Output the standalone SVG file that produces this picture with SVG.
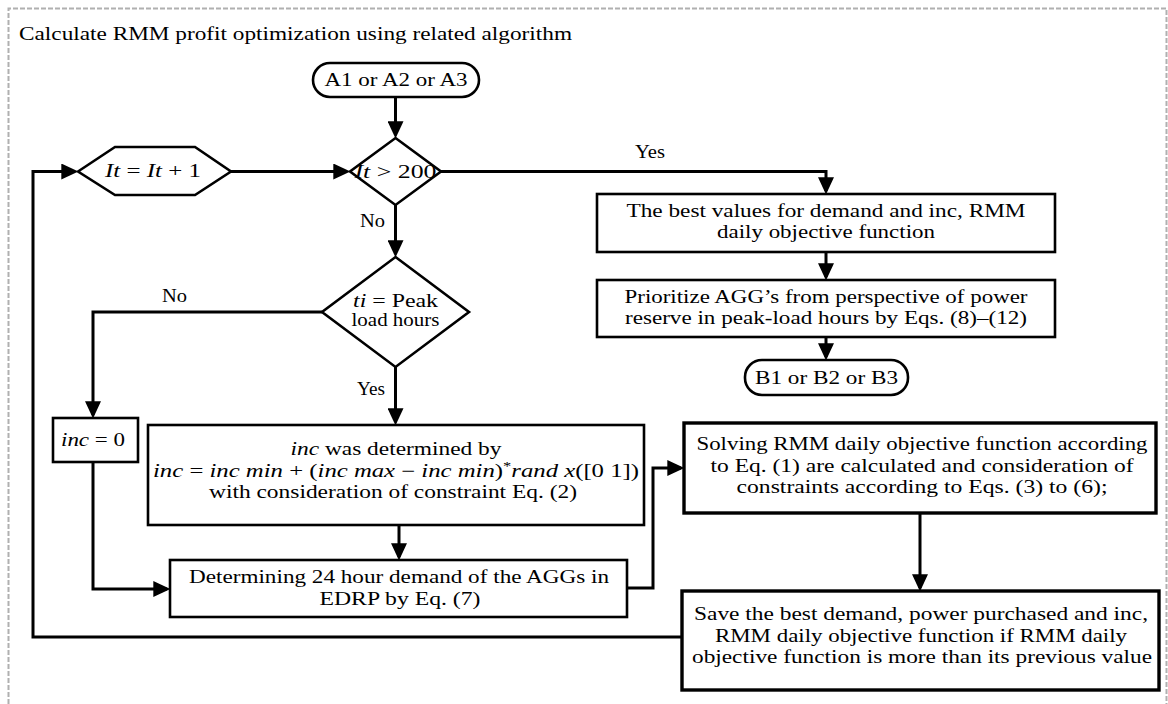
<svg xmlns="http://www.w3.org/2000/svg" width="1168" height="704" viewBox="0 0 1168 704">
<defs>
<style>
text{font-family:"Liberation Serif","Times New Roman",serif;font-size:18px;fill:#000}
.c{text-anchor:middle}
.i{font-style:italic}
.box{fill:#fff;stroke:#000;stroke-width:2.6}
.thick{stroke-width:3.4}
.conn{fill:none;stroke:#000;stroke-width:3;stroke-linejoin:miter}
</style>
<marker id="ah" markerUnits="userSpaceOnUse" markerWidth="18" markerHeight="16" viewBox="0 0 15 14" refX="12" refY="7" orient="auto">
<path d="M0,0 L15,7 L0,14 z" fill="#000"/>
</marker>
</defs>
<rect width="1168" height="704" fill="#fff"/>
<path d="M8.5,704 V8.5 H1166.5 V704" fill="none" stroke="#b0b0b0" stroke-width="2" stroke-dasharray="5 2"/>
<text x="19" y="40" textLength="553" lengthAdjust="spacingAndGlyphs">Calculate RMM profit optimization using related algorithm</text>

<g id="connectors">
<path class="conn" d="M395.5,97 V135" marker-end="url(#ah)"/>
<path class="conn" d="M231,171.5 H347" marker-end="url(#ah)"/>
<path class="conn" d="M441,171.5 H826 V191" marker-end="url(#ah)"/>
<path class="conn" d="M826,252 V277" marker-end="url(#ah)"/>
<path class="conn" d="M826,337 V357" marker-end="url(#ah)"/>
<path class="conn" d="M395.5,205 V254" marker-end="url(#ah)"/>
<path class="conn" d="M322,312 H93 V415" marker-end="url(#ah)"/>
<path class="conn" d="M395.5,367 V422" marker-end="url(#ah)"/>
<path class="conn" d="M399,525 V557" marker-end="url(#ah)"/>
<path class="conn" d="M93,462 V589 H167" marker-end="url(#ah)"/>
<path class="conn" d="M627,588 H653 V468 H681" marker-end="url(#ah)"/>
<path class="conn" d="M920,513 V588" marker-end="url(#ah)"/>
<path class="conn" d="M682,637 H33 V171.5 H75" marker-end="url(#ah)"/>
<text x="635" y="158" textLength="30" lengthAdjust="spacingAndGlyphs">Yes</text>
<text x="360" y="227" textLength="25" lengthAdjust="spacingAndGlyphs">No</text>
<text x="162" y="302" textLength="25" lengthAdjust="spacingAndGlyphs">No</text>
<text x="357" y="395" textLength="28" lengthAdjust="spacingAndGlyphs">Yes</text>
</g>

<g id="start">
<rect class="box" x="313" y="63" width="166" height="34" rx="17" ry="17"/>
<text class="c" x="396" y="86" textLength="143" lengthAdjust="spacingAndGlyphs">A1 or A2 or A3</text>
</g>

<g id="cond-it">
<polygon class="box" points="395.5,138 441,171.5 395.5,205 350,171.5"/>
<text class="c" x="395.5" y="178" textLength="82" lengthAdjust="spacingAndGlyphs"><tspan class="i">It</tspan> &gt; 200</text>
</g>

<g id="increment">
<polygon class="box" points="78,171.5 115,147 195,147 231,171.5 195,195 115,195"/>
<text class="c" x="153" y="177" textLength="96" lengthAdjust="spacingAndGlyphs"><tspan class="i">It</tspan> = <tspan class="i">It</tspan> + 1</text>
</g>

<g id="best-values">
<rect class="box" x="597" y="194" width="458" height="58"/>
<text class="c" x="826" y="217" textLength="399" lengthAdjust="spacingAndGlyphs">The best values for demand and inc, RMM</text>
<text class="c" x="826" y="238" textLength="218" lengthAdjust="spacingAndGlyphs">daily objective function</text>
</g>

<g id="prioritize">
<rect class="box" x="597" y="280" width="458" height="57"/>
<text class="c" x="826" y="303" textLength="403" lengthAdjust="spacingAndGlyphs">Prioritize AGG’s from perspective of power</text>
<text class="c" x="826" y="324" textLength="402" lengthAdjust="spacingAndGlyphs">reserve in peak-load hours by Eqs. (8)–(12)</text>
</g>

<g id="end">
<rect class="box" x="745" y="360" width="163" height="35" rx="17" ry="17"/>
<text class="c" x="826.5" y="384" textLength="143" lengthAdjust="spacingAndGlyphs">B1 or B2 or B3</text>
</g>

<g id="cond-ti">
<polygon class="box" points="395.5,257 469,312 395.5,367 322,312"/>
<text class="c" x="395.5" y="307" textLength="85" lengthAdjust="spacingAndGlyphs"><tspan class="i">ti</tspan> = Peak</text>
<text class="c" x="395.5" y="326" textLength="88" lengthAdjust="spacingAndGlyphs">load hours</text>
</g>

<g id="inc-zero">
<rect class="box" x="53" y="418" width="85" height="44"/>
<text class="c" x="93" y="446" textLength="64" lengthAdjust="spacingAndGlyphs"><tspan class="i">inc</tspan> = 0</text>
</g>

<g id="inc-determined">
<rect class="box" x="148" y="425" width="496" height="100"/>
<text class="c" x="396" y="455" textLength="211" lengthAdjust="spacingAndGlyphs"><tspan class="i">inc</tspan> was determined by</text>
<text class="c" x="396" y="477" textLength="486" lengthAdjust="spacingAndGlyphs"><tspan class="i">inc</tspan> = <tspan class="i">inc min</tspan> + (<tspan class="i">inc max</tspan> − <tspan class="i">inc min</tspan>)<tspan font-size="12" dy="-7">*</tspan><tspan class="i" dy="7">rand x</tspan>([0 1])</text>
<text class="c" x="393" y="498" textLength="368" lengthAdjust="spacingAndGlyphs">with consideration of constraint Eq. (2)</text>
</g>

<g id="demand">
<rect class="box" x="170" y="560" width="457" height="57"/>
<text class="c" x="399" y="583" textLength="420" lengthAdjust="spacingAndGlyphs">Determining 24 hour demand of the AGGs in</text>
<text class="c" x="400" y="605" textLength="161" lengthAdjust="spacingAndGlyphs">EDRP by Eq. (7)</text>
</g>

<g id="solving">
<rect class="box thick" x="684" y="423" width="472" height="90"/>
<text class="c" x="922" y="450" textLength="451" lengthAdjust="spacingAndGlyphs">Solving RMM daily objective function according</text>
<text class="c" x="922" y="472" textLength="423" lengthAdjust="spacingAndGlyphs">to Eq. (1) are calculated and consideration of</text>
<text class="c" x="922" y="493" textLength="371" lengthAdjust="spacingAndGlyphs">constraints according to Eqs. (3) to (6);</text>
</g>

<g id="save">
<rect class="box thick" x="682" y="591" width="477" height="99"/>
<text class="c" x="921" y="620" textLength="454" lengthAdjust="spacingAndGlyphs">Save the best demand, power purchased and inc,</text>
<text class="c" x="921" y="642" textLength="412" lengthAdjust="spacingAndGlyphs">RMM daily objective function if RMM daily</text>
<text class="c" x="922" y="663" textLength="460" lengthAdjust="spacingAndGlyphs">objective function is more than its previous value</text>
</g>
</svg>
